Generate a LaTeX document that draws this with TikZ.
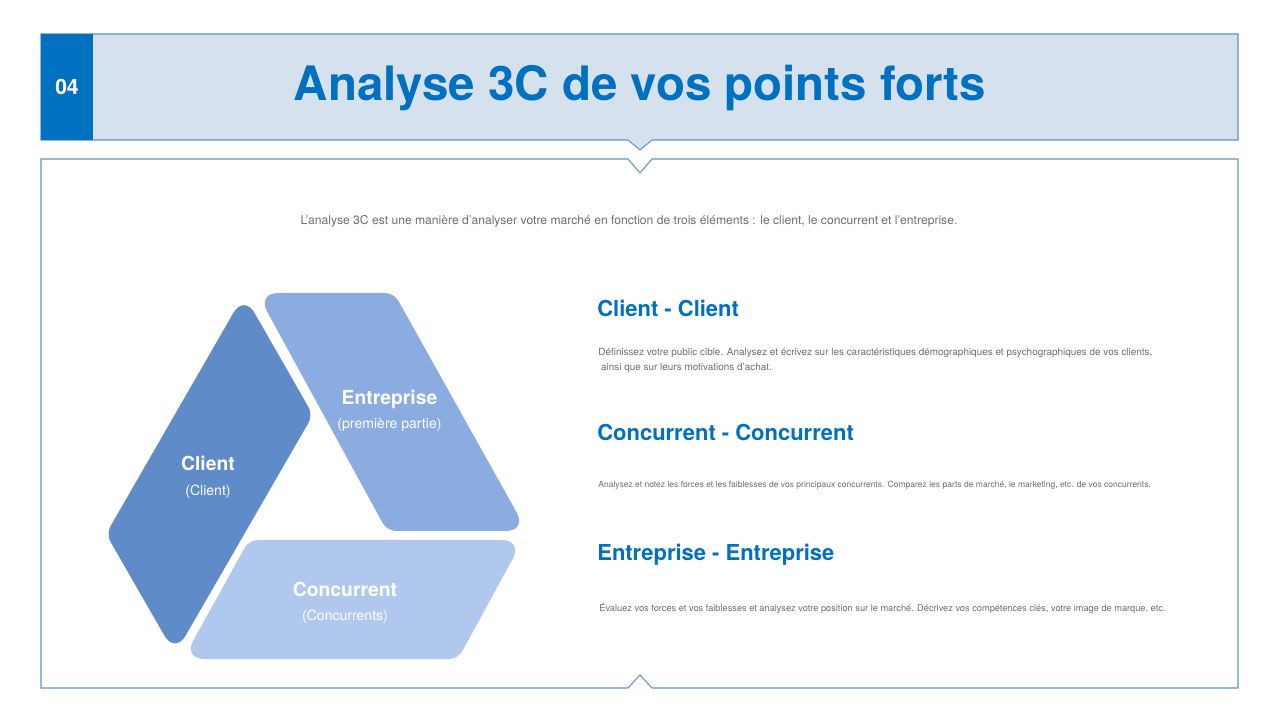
\documentclass[tikz,border=0pt]{standalone}
\usepackage{fontspec}
\setmainfont{TeX Gyre Heros}
\definecolor{titleblue}{RGB}{0, 112, 192}
\definecolor{headfill}{RGB}{214, 225, 238}
\definecolor{framecol}{RGB}{96, 146, 204}
\definecolor{clientcol}{RGB}{95, 139, 200}
\definecolor{entrcol}{RGB}{139, 172, 224}
\definecolor{conccol}{RGB}{176, 200, 238}
\definecolor{textgray}{RGB}{110, 110, 110}
\usetikzlibrary{positioning}

\begin{document}
\begin{tikzpicture}[
      frame/.style={draw=framecol,line width=0.6pt},
      acute/.style={rounded corners=0.42cm},
      obtuse/.style={rounded corners=0.18cm},
      piecelabel/.style={align=center,text=white,font=\fontsize{8}{14}\selectfont},
      heading/.style={anchor=west,inner sep=0pt,text=titleblue,font=\bfseries\fontsize{12.5}{15}\selectfont},
      body/.style={anchor=west,inner sep=0pt,align=left,text=textgray}
    ]
    \useasboundingbox (0,0) rectangle (25.6,14.4);

    % header band with pointer
    \fill[white] (0,0) rectangle (25.6,14.4);
    \draw[frame,fill=headfill] (0.82,13.72) -- (24.76,13.72) -- (24.76,11.60) -- (13.04,11.60) -- (12.80,11.40)
      -- (12.56,11.60) -- (0.82,11.60) -- cycle;
    \fill[titleblue] (0.82,11.60) rectangle (1.86,13.72);
    \node[text=white,font=\bfseries\fontsize{12}{14}\selectfont] (num) at (1.34,12.66) {04};
    \node[text=titleblue,font=\bfseries\fontsize{27}{32}\selectfont] (title) at (12.80,12.64) {Analyse 3C de vos points forts};

    % content frame with notches
    \draw[frame,fill=white] (0.82,11.22) -- (12.56,11.22) -- (12.80,10.94) -- (13.04,11.22) -- (24.76,11.22)
      -- (24.76,0.64) -- (13.04,0.64) -- (12.80,0.90) -- (12.56,0.64) -- (0.82,0.64) -- cycle;

    \node[text=textgray,font=\fontsize{6.9}{8}\selectfont] (intro) at (12.58,9.98) {L'analyse 3C est une manière d'analyser votre marché en fonction de trois éléments : le client, le concurrent et l'entreprise.};

    % 3C pieces
    \fill[clientcol] (3.50,6.115) [acute] -- (4.88,8.51) [obtuse] -- (6.26,6.10) [acute] -- (3.50,1.32) [obtuse]
      -- (2.12,3.72) -- cycle;
    \fill[entrcol] (6.51,8.54) [obtuse] -- (7.88,8.54) [acute] -- (10.54,3.78) [obtuse] -- (7.74,3.78) [acute]
      -- (5.14,8.54) -- cycle;
    \fill[conccol] (7.72,3.60) [acute] -- (10.46,3.60) [obtuse] -- (9.16,1.22) [acute] -- (3.66,1.22) [obtuse]
      -- (4.98,3.60) -- cycle;

    \node[piecelabel] (client) at (4.16,4.86) {{\bfseries\fontsize{11}{14}\selectfont Client}\\(Client)};
    \node[piecelabel] (entr) at (7.79,6.18) {{\bfseries\fontsize{11}{14}\selectfont Entreprise}\\(première partie)};
    \node[piecelabel] (conc) at (6.90,2.34) {{\bfseries\fontsize{11}{14}\selectfont Concurrent}\\(Concurrents)};

    % right column
    \node[heading] (hclient) at (11.94,8.24) {Client - Client};
    \node[body,font=\fontsize{5.65}{8.5}\selectfont] (tclient) at (11.96,7.19) {Définissez votre public cible. Analysez et écrivez sur les caractéristiques démographiques et psychographiques de vos clients,\\ \ ainsi que sur leurs motivations d'achat.};
    \node[heading] (hconc) at (11.94,5.76) {Concurrent - Concurrent};
    \node[body,font=\fontsize{4.85}{6}\selectfont] (tconc) at (11.96,4.70) {Analysez et notez les forces et les faiblesses de vos principaux concurrents. Comparez les parts de marché, le marketing, etc. de vos concurrents.};
    \node[heading] (hentr) at (11.94,3.30) {Entreprise - Entreprise};
    \node[body,font=\fontsize{5.25}{6}\selectfont] (tentr) at (11.98,2.24) {Évaluez vos forces et vos faiblesses et analysez votre position sur le marché. Décrivez vos compétences clés, votre image de marque, etc.};
  \end{tikzpicture}
\end{document}
